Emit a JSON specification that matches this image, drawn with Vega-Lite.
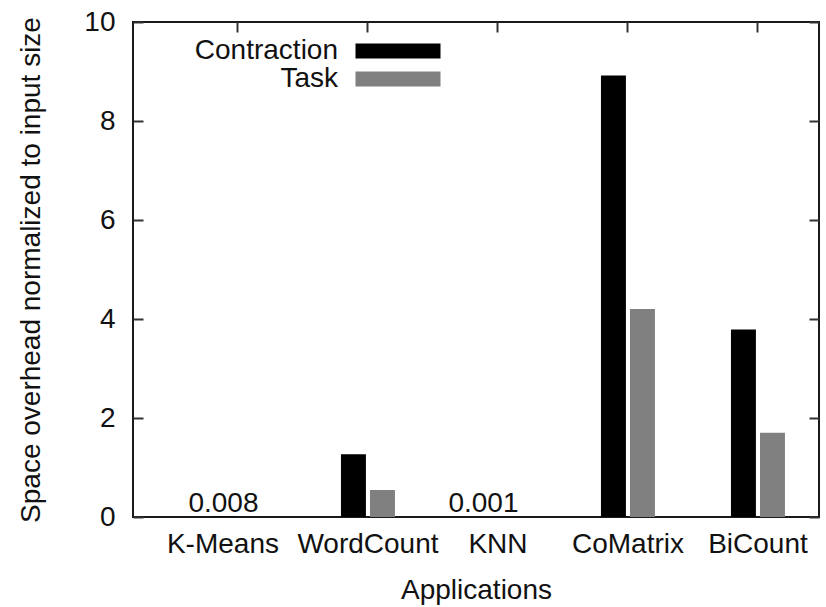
{
  "$schema": "https://vega.github.io/schema/vega-lite/v6.json",
  "width": 686,
  "height": 495,
  "autosize": {"type": "none"},
  "padding": {"left": 133, "top": 22, "right": 7, "bottom": 90},
  "background": "white",
  "config": {
    "font": "Liberation Sans",
    "view": {"stroke": "#1a1a1a", "strokeWidth": 2},
    "axis": {"labelFont": "Liberation Sans", "titleFont": "Liberation Sans", "labelColor": "#111", "titleColor": "#111", "labelFontSize": 28, "titleFontSize": 28, "titleFontWeight": "normal", "grid": false, "domain": false, "tickColor": "#333", "tickWidth": 2},
    "legend": {"labelFont": "Liberation Sans", "labelFontSize": 28, "labelColor": "#111"}
  },
  "layer": [
    {
      "data": {"values": [
        {"app": "K-Means", "series": "Contraction", "value": 0.008},
        {"app": "K-Means", "series": "Task", "value": 0},
        {"app": "WordCount", "series": "Contraction", "value": 1.27},
        {"app": "WordCount", "series": "Task", "value": 0.545},
        {"app": "KNN", "series": "Contraction", "value": 0.001},
        {"app": "KNN", "series": "Task", "value": 0},
        {"app": "CoMatrix", "series": "Contraction", "value": 8.92},
        {"app": "CoMatrix", "series": "Task", "value": 4.2},
        {"app": "BiCount", "series": "Contraction", "value": 3.79},
        {"app": "BiCount", "series": "Task", "value": 1.7}
      ]},
      "mark": {"type": "bar", "stroke": null},
      "encoding": {
        "x": {"field": "app", "type": "nominal", "sort": ["K-Means", "WordCount", "KNN", "CoMatrix", "BiCount"],
              "scale": {"paddingInner": 0.5846, "paddingOuter": 0.4308, "align": 0.696},
              "axis": {"orient": "bottom", "title": "Applications", "labelAngle": 0, "ticks": false, "labelPadding": 13, "titlePadding": 18,
                       "labelOffset": {"condition": {"test": "datum.value === 'K-Means'", "value": -15}, "value": 0}}},
        "xOffset": {"field": "series", "type": "nominal", "sort": ["Contraction", "Task"], "scale": {"paddingInner": 0.14, "paddingOuter": 0}},
        "y": {"field": "value", "type": "quantitative", "scale": {"domain": [0, 10], "nice": false, "zero": true},
              "axis": {"orient": "left", "title": "Space overhead normalized to input size", "values": [0, 2, 4, 6, 8, 10], "tickSize": -10, "labelPadding": 28, "titlePadding": 38}},
        "color": {"field": "series", "type": "nominal", "sort": ["Contraction", "Task"],
                  "scale": {"domain": ["Contraction", "Task"], "range": ["#000000", "#808080"]},
                  "legend": {"title": null, "orient": "none", "legendX": 251, "legendY": 15, "direction": "vertical",
                             "symbolType": "M-5.667,-1L5.667,-1L5.667,1L-5.667,1Z", "symbolSize": 225, "symbolStrokeWidth": 0,
                             "labelAlign": "right", "labelOffset": -74, "rowPadding": 0}}
      }
    },
    {
      "data": {"values": [
        {"app": "K-Means", "series": "Contraction", "value": 0, "label": "0.008"},
        {"app": "KNN", "series": "Contraction", "value": 0, "label": "0.001"}
      ]},
      "mark": {"type": "text", "baseline": "alphabetic", "dy": -5, "fontSize": 28, "color": "#111"},
      "encoding": {
        "x": {"field": "app", "type": "nominal", "sort": ["K-Means", "WordCount", "KNN", "CoMatrix", "BiCount"],
              "axis": {"orient": "top", "title": null, "labels": false, "tickSize": -10}},
        "xOffset": {"field": "series", "type": "nominal", "sort": ["Contraction", "Task"]},
        "y": {"field": "value", "type": "quantitative",
              "axis": {"orient": "right", "title": null, "labels": false, "values": [0, 2, 4, 6, 8, 10], "tickSize": -10}},
        "text": {"field": "label"}
      }
    }
  ]
}
